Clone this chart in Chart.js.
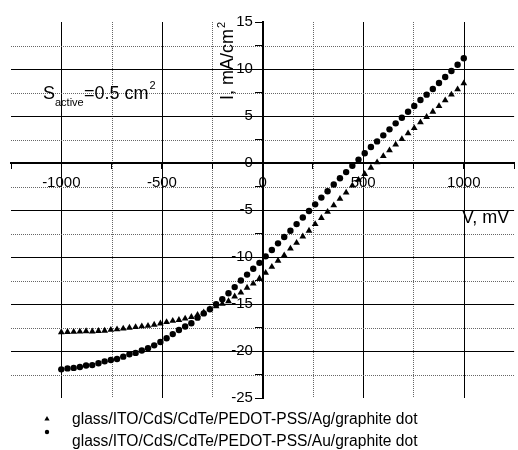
<!DOCTYPE html>
<html>
<head>
<meta charset="utf-8">
<title>I-V curves</title>
<script src="https://cdn.jsdelivr.net/npm/chart.js@4.4.1/dist/chart.umd.min.js"></script>
<style>
  html, body { margin: 0; padding: 0; background: #fff; }
  #chart { display: block; }
</style>
</head>
<body>
<canvas id="chart" width="518" height="450"></canvas>
<script>
// voltage sweep, mV
const voltage = [
  -1000, -969.2, -938.5, -907.7, -876.9, -846.2, -815.4, -784.6, -753.8, -723.1,
  -692.3, -661.5, -630.8, -600, -569.2, -538.5, -507.7, -476.9, -446.2, -415.4,
  -384.6, -353.8, -323.1, -292.3, -261.5, -230.8, -200, -169.2, -138.5, -107.7,
  -76.9, -46.2, -15.4, 15.4, 46.2, 76.9, 107.7, 138.5, 169.2, 200,
  230.8, 261.5, 292.3, 323.1, 353.8, 384.6, 415.4, 446.2, 476.9, 507.7,
  538.5, 569.2, 600, 630.8, 661.5, 692.3, 723.1, 753.8, 784.6, 815.4,
  846.2, 876.9, 907.7, 938.5, 969.2, 1000
];
// current density, mA/cm2 (Ag contact, triangles)
const currentAg = [
  -18.0, -17.98, -17.97, -17.94, -17.9, -17.92, -17.87, -17.84, -17.75, -17.7,
  -17.62, -17.52, -17.45, -17.37, -17.33, -17.2, -17.07, -16.93, -16.8, -16.7,
  -16.55, -16.38, -16.15, -15.9, -15.55, -15.25, -14.98, -14.7, -14.2, -13.78,
  -13.27, -12.83, -12.28, -11.68, -11.05, -10.4, -9.82, -9.1, -8.5, -7.82,
  -7.2, -6.5, -5.85, -5.2, -4.5, -3.82, -3.15, -2.41, -1.8, -1.17,
  -0.5, 0.07, 0.74, 1.35, 1.95, 2.55, 3.16, 3.72, 4.33, 4.9,
  5.46, 6.06, 6.67, 7.27, 7.84, 8.48
];
// current density, mA/cm2 (Au contact, circles)
const currentAu = [
  -21.95, -21.85, -21.8, -21.7, -21.55, -21.5, -21.3, -21.1, -20.95, -20.85,
  -20.6, -20.35, -20.2, -19.95, -19.7, -19.4, -19.05, -18.65, -18.2, -17.77,
  -17.4, -17.05, -16.45, -16.0, -15.56, -15.03, -14.5, -13.85, -13.2, -12.5,
  -11.87, -11.25, -10.62, -9.93, -9.25, -8.55, -7.87, -7.2, -6.5, -5.8,
  -5.1, -4.4, -3.68, -3.0, -2.28, -1.62, -0.97, -0.3, 0.36, 1.03,
  1.7, 2.3, 2.94, 3.58, 4.22, 4.82, 5.46, 6.06, 6.7, 7.27,
  7.87, 8.51, 9.15, 9.79, 10.46, 11.14
];
const seriesLabels = [
  'glass/ITO/CdS/CdTe/PEDOT-PSS/Ag/graphite dot',
  'glass/ITO/CdS/CdTe/PEDOT-PSS/Au/graphite dot'
];
const xTickLabels = [-1000, -500, 0, 500, 1000];
const yTickLabels = [15, 10, 5, 0, -5, -10, -15, -20, -25];

const FONT = "'Liberation Sans', Arial, sans-serif";
Chart.defaults.font.family = FONT;
Chart.defaults.color = '#000';

const toPoints = (ys) => voltage.map((v, i) => ({ x: v, y: ys[i] }));

// dotted / solid grid like the original plot
const gridLines = {
  id: 'gridLines',
  beforeDraw(chart) {
    const { ctx, chartArea: a, scales: { x, y } } = chart;
    ctx.save();
    ctx.lineWidth = 1;
    x.ticks.forEach(t => {
      if (t.value === 0 || Math.abs(t.value) >= 1250) return;
      const px = Math.round(x.getPixelForValue(t.value)) + 0.5;
      const solid = t.value % 500 === 0;
      ctx.setLineDash(solid ? [] : [1, 1]);
      ctx.strokeStyle = solid ? '#000' : '#666';
      ctx.beginPath(); ctx.moveTo(px, a.top); ctx.lineTo(px, a.bottom); ctx.stroke();
    });
    y.ticks.forEach(t => {
      if (t.value === 0 || t.value >= 15 || t.value <= -25) return;
      const py = Math.round(y.getPixelForValue(t.value)) + 0.5;
      const solid = t.value % 5 === 0;
      ctx.setLineDash(solid ? [] : [1, 1]);
      ctx.strokeStyle = solid ? '#000' : '#666';
      ctx.beginPath(); ctx.moveTo(a.left, py); ctx.lineTo(a.right, py); ctx.stroke();
    });
    ctx.restore();
  }
};

function marker(ctx, style, r, x, y) {
  ctx.beginPath();
  if (style === 'triangle') {
    ctx.moveTo(x, y - r);
    ctx.lineTo(x + r * Math.sqrt(3) / 2, y + r / 2);
    ctx.lineTo(x - r * Math.sqrt(3) / 2, y + r / 2);
    ctx.closePath();
  } else {
    ctx.arc(x, y, r, 0, Math.PI * 2);
  }
  ctx.fill();
}

// axis titles, area note and the legend under the plot
const annotations = {
  id: 'annotations',
  afterDraw(chart) {
    const ctx = chart.ctx;
    ctx.save();
    ctx.fillStyle = '#000';
    ctx.textBaseline = 'alphabetic';

    // I, mA/cm2
    ctx.save();
    ctx.translate(233, 100);
    ctx.rotate(-Math.PI / 2);
    ctx.font = '18px ' + FONT;
    ctx.fillText('I, mA/cm', 0, 0);
    const w = ctx.measureText('I, mA/cm').width;
    ctx.font = '11px ' + FONT;
    ctx.fillText('2', w + 1, -8);
    ctx.restore();

    // V, mV
    ctx.font = '18px ' + FONT;
    ctx.fillText('V, mV', 462, 223);

    // S_active = 0.5 cm2
    ctx.fillText('S', 43, 99);
    ctx.font = '11px ' + FONT;
    ctx.fillText('active', 55, 106);
    ctx.font = '18px ' + FONT;
    ctx.fillText('=0.5 cm', 84, 99);
    const w2 = ctx.measureText('=0.5 cm').width;
    ctx.font = '11px ' + FONT;
    ctx.fillText('2', 84 + w2 + 1, 89);

    // legend
    const rows = [
      { mx: 47, my: 419, ty: 424, r: 3 },
      { mx: 47, my: 432, ty: 446, r: 2.2 }
    ];
    ctx.font = '15.6px ' + FONT;
    chart.data.datasets.forEach((ds, i) => {
      const row = rows[i];
      marker(ctx, ds.pointStyle, row.r, row.mx, row.my);
      ctx.fillText(ds.label, 72, row.ty);
    });
    ctx.restore();
  }
};

new Chart(document.getElementById('chart'), {
  type: 'scatter',
  data: {
    datasets: [
      {
        label: seriesLabels[0],
        data: toPoints(currentAg),
        pointStyle: 'triangle',
        pointRadius: 3.9,
        pointHoverRadius: 3.9,
        backgroundColor: '#000',
        borderColor: '#000',
        borderWidth: 0
      },
      {
        label: seriesLabels[1],
        data: toPoints(currentAu),
        pointStyle: 'circle',
        pointRadius: 3.2,
        pointHoverRadius: 3.2,
        backgroundColor: '#000',
        borderColor: '#000',
        borderWidth: 0
      }
    ]
  },
  options: {
    responsive: false,
    animation: false,
    events: [],
    layout: { padding: { left: 11, right: 0, top: 22, bottom: 52 } },
    plugins: {
      legend: { display: false },
      tooltip: { enabled: false }
    },
    scales: {
      x: {
        type: 'linear',
        position: { y: 0 },
        min: -1250,
        max: 1250,
        afterFit: (s) => { s.height = 0; s.paddingLeft = 0; s.paddingRight = 0; },
        ticks: {
          stepSize: 250,
          autoSkip: false,
          maxRotation: 0,
          padding: 6,
          font: { size: 15 },
          callback: (v) => xTickLabels.includes(v) ? String(v) : ''
        },
        grid: { drawOnChartArea: false, tickLength: 5, tickColor: '#000', tickWidth: 1 },
        border: { color: '#000', width: 2 }
      },
      // axis line and tick marks through the origin
      y: {
        type: 'linear',
        position: { x: 0 },
        min: -25,
        max: 15,
        afterFit: (s) => { s.width = 0; s.paddingTop = 0; s.paddingBottom = 0; },
        ticks: { stepSize: 2.5, autoSkip: false, display: false },
        grid: { drawOnChartArea: false, tickLength: 7, tickColor: '#000', tickWidth: 1 },
        border: { color: '#000', width: 2 }
      },
      // tick labels, set a little left of the axis
      yLabels: {
        type: 'linear',
        axis: 'y',
        position: { x: -48 },
        min: -25,
        max: 15,
        afterFit: (s) => { s.width = 0; s.paddingTop = 0; s.paddingBottom = 0; },
        ticks: {
          stepSize: 5,
          autoSkip: false,
          font: { size: 15 },
          callback: (v) => yTickLabels.includes(v) ? String(v) : ''
        },
        grid: { display: false, drawTicks: false },
        border: { display: false }
      }
    }
  },
  plugins: [gridLines, annotations]
});
</script>
</body>
</html>
